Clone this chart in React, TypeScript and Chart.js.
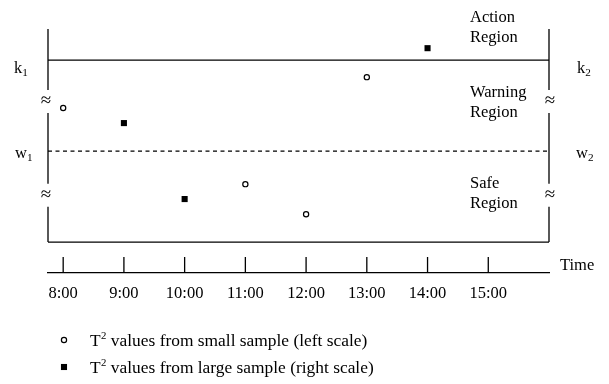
import React, { useEffect, useRef } from 'react';
import { Chart, registerables } from 'chart.js';

Chart.register(...registerables);

// ---- data ----
const HOURS = [8, 9, 10, 11, 12, 13, 14, 15];
const TIME_LABELS = ['8:00', '9:00', '10:00', '11:00', '12:00', '13:00', '14:00', '15:00'];
const SMALL_TIMES = [8, 11, 12, 13];
const SMALL_VALUES = [62.9, 27.2, 13.1, 77.4]; // left scale
const LARGE_TIMES = [9, 10, 14];
const LARGE_VALUES = [111.7, 40.4, 182]; // right scale
const K1 = 85.4;
const W1 = 42.7;
const K2 = 170.8;
const W2 = 85.4;
const LEFT_RANGE = [-14.5, 100];
const RIGHT_RANGE = [-29, 200];
const X_RANGE = [7.75, 16];
const BREAKS_LEFT = [66, 22];
const SERIES_LABELS = [
  'T² values from small sample (left scale)',
  'T² values from large sample (right scale)',
];
const REGION_LABELS = [
  ['Action', 'Region'],
  ['Warning', 'Region'],
  ['Safe', 'Region'],
];
const AXIS_TITLE = 'Time';

const FONT = '"Liberation Serif", "Times New Roman", serif';
const SIZE = 16.5;
const LEGEND_SIZE = 17.4;
const INK = '#000';

function drawMarker(ctx: CanvasRenderingContext2D, ds: any, x: number, y: number) {
  ctx.save();
  if (ds.pointStyle === 'rect') {
    const h = ds.pointRadius * Math.SQRT1_2;
    ctx.fillStyle = ds.backgroundColor;
    ctx.fillRect(x - h, y - h, 2 * h, 2 * h);
  } else {
    ctx.beginPath();
    ctx.arc(x, y, ds.pointRadius, 0, Math.PI * 2);
    ctx.fillStyle = ds.backgroundColor;
    ctx.fill();
    ctx.lineWidth = ds.borderWidth;
    ctx.strokeStyle = ds.borderColor;
    ctx.stroke();
  }
  ctx.restore();
}

function drawSub(ctx: CanvasRenderingContext2D, main: string, sub: string, x: number, y: number, subDrop: number) {
  ctx.font = `${SIZE}px ${FONT}`;
  ctx.fillText(main, x, y);
  const w = ctx.measureText(main).width;
  ctx.font = `${SIZE * 0.68}px ${FONT}`;
  ctx.fillText(sub, x + w, y + subDrop);
}

function drawSeriesLabel(ctx: CanvasRenderingContext2D, text: string, x: number, y: number) {
  const [a, b] = text.split('²');
  ctx.font = `${LEGEND_SIZE}px ${FONT}`;
  ctx.fillText(a, x, y);
  let cx = x + ctx.measureText(a).width + 0.5;
  ctx.font = `${LEGEND_SIZE * 0.62}px ${FONT}`;
  ctx.fillText('2', cx, y - 6.5);
  cx += ctx.measureText('2').width;
  ctx.font = `${LEGEND_SIZE}px ${FONT}`;
  ctx.fillText(b, cx, y);
}

const decor = {
  id: 'decor',
  afterDraw(chart: any) {
    const { ctx, chartArea: ca, scales } = chart;
    const xs = scales.x;
    const yL = scales.y;
    const yR = scales.y2;
    const left = ca.left;
    const right = ca.right;
    const top = ca.top;
    const base = yL.getPixelForValue(0);
    ctx.save();
    ctx.strokeStyle = INK;
    ctx.fillStyle = INK;
    ctx.lineWidth = 1.3;

    // vertical axes with breaks
    const breaks = BREAKS_LEFT.map((v) => yL.getPixelForValue(v)).sort((a: number, b: number) => a - b);
    const gap = 11.5;
    [left, right].forEach((px) => {
      let y0 = top;
      ctx.beginPath();
      breaks.forEach((b: number) => {
        ctx.moveTo(px, y0);
        ctx.lineTo(px, b - gap);
        y0 = b + gap;
      });
      ctx.moveTo(px, y0);
      ctx.lineTo(px, base);
      ctx.stroke();
    });
    // base of box
    ctx.beginPath();
    ctx.moveTo(left, base);
    ctx.lineTo(right, base);
    ctx.stroke();

    // break symbols
    ctx.font = `19px ${FONT}`;
    ctx.textAlign = 'center';
    ctx.textBaseline = 'middle';
    breaks.forEach((b: number) => {
      ctx.fillText('≈', left - 2, b);
      ctx.fillText('≈', right + 1, b);
    });

    // limit labels
    ctx.textAlign = 'left';
    ctx.textBaseline = 'alphabetic';
    const k1 = yL.getPixelForValue(K1);
    const w1 = yL.getPixelForValue(W1);
    const k2 = yR.getPixelForValue(K2);
    const w2 = yR.getPixelForValue(W2);
    drawSub(ctx, 'k', '1', left - 34, k1 + 13, 2.5);
    drawSub(ctx, 'w', '1', left - 33, w1 + 7, 2.5);
    drawSub(ctx, 'k', '2', right + 28, k2 + 13, 2.5);
    drawSub(ctx, 'w', '2', right + 27, w2 + 7, 2.5);

    // region labels
    ctx.font = `${SIZE}px ${FONT}`;
    const rx = right - 79;
    const rows = [
      [k1 - 38, k1 - 18],
      [k1 + 37, k1 + 57],
      [w1 + 37, w1 + 57],
    ];
    REGION_LABELS.forEach((lines, i) => {
      lines.forEach((t, j) => ctx.fillText(t, rx, rows[i][j]));
    });

    // time axis ticks (pointing up)
    const axisY = ca.bottom;
    ctx.beginPath();
    xs.ticks.forEach((t: any) => {
      const px = xs.getPixelForValue(t.value);
      ctx.moveTo(px, axisY - 16);
      ctx.lineTo(px, axisY);
    });
    ctx.stroke();
    ctx.font = `${SIZE}px ${FONT}`;
    ctx.fillText(AXIS_TITLE, right + 11, axisY - 3);

    // legend
    const series = chart.data.datasets.filter((d: any) => !d.showLine);
    series.forEach((ds: any, i: number) => {
      const my = axisY + 67 + i * 27;
      drawMarker(ctx, ds, left + 16, my);
      drawSeriesLabel(ctx, ds.label, left + 42, my + 5.5);
    });
    ctx.restore();
  },
};

export default function App() {
  const ref = useRef<HTMLCanvasElement>(null);
  useEffect(() => {
    if (!ref.current) return;
    const chart = new Chart(ref.current, {
      type: 'scatter',
      data: {
        datasets: [
          {
            label: SERIES_LABELS[0],
            data: SMALL_TIMES.map((t, i) => ({ x: t, y: SMALL_VALUES[i] })),
            yAxisID: 'y',
            showLine: false,
            pointStyle: 'circle',
            pointRadius: 2.6,
            borderWidth: 1.2,
            borderColor: INK,
            backgroundColor: '#fff',
          },
          {
            label: SERIES_LABELS[1],
            data: LARGE_TIMES.map((t, i) => ({ x: t, y: LARGE_VALUES[i] })),
            yAxisID: 'y2',
            showLine: false,
            pointStyle: 'rect',
            pointRadius: 4.3,
            borderWidth: 0,
            borderColor: INK,
            backgroundColor: INK,
          },
          {
            label: 'k',
            data: [
              { x: X_RANGE[0], y: K1 },
              { x: X_RANGE[1], y: K1 },
            ],
            yAxisID: 'y',
            showLine: true,
            pointRadius: 0,
            borderColor: INK,
            borderWidth: 1.3,
          },
          {
            label: 'w',
            data: [
              { x: X_RANGE[0], y: W1 },
              { x: X_RANGE[1], y: W1 },
            ],
            yAxisID: 'y',
            showLine: true,
            pointRadius: 0,
            borderColor: INK,
            borderWidth: 1.2,
            borderDash: [4, 3.5],
          },
        ] as any,
      },
      options: {
        responsive: false,
        animation: false,
        events: [],
        layout: { padding: { left: 48, right: 60, top: 29, bottom: 81 } },
        plugins: { legend: { display: false }, tooltip: { enabled: false } },
        scales: {
          x: {
            type: 'linear',
            position: 'bottom',
            min: X_RANGE[0],
            max: X_RANGE[1],
            grid: { display: false, drawTicks: false },
            border: { display: true, color: INK, width: 1.3 },
            ticks: {
              autoSkip: false,
              maxRotation: 0,
              padding: 11,
              color: INK,
              font: { family: FONT, size: SIZE },
              callback: (_v: any, i: number) => TIME_LABELS[i],
            },
            afterBuildTicks: (s: any) => {
              s.ticks = HOURS.map((v) => ({ value: v }));
            },
            afterFit: (s: any) => {
              s.height = 30;
            },
          },
          y: { display: false, min: LEFT_RANGE[0], max: LEFT_RANGE[1] },
          y2: { display: false, position: 'right', min: RIGHT_RANGE[0], max: RIGHT_RANGE[1] },
        },
      } as any,
      plugins: [decor],
    });
    return () => chart.destroy();
  }, []);
  return (
    <div style={{ position: 'fixed', left: 0, top: 0, width: 609, height: 384, background: '#fff' }}>
      <canvas ref={ref} width={609} height={384} style={{ display: 'block' }} />
    </div>
  );
}
